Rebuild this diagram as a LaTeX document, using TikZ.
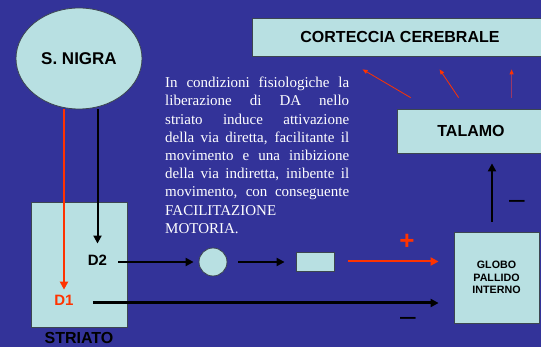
\documentclass[tikz,border=0pt]{standalone}
\usepackage{fontspec}
\setmainfont{Liberation Serif}
\setsansfont{Liberation Sans}
\usetikzlibrary{arrows.meta,shapes.geometric}
\definecolor{fondo}{HTML}{333399}
\definecolor{celeste}{HTML}{B8E0E2}
\definecolor{bordo}{HTML}{3C4650}
\definecolor{rosso}{HTML}{FF3300}
\definecolor{viola}{HTML}{9A3868}

\begin{document}
\begin{tikzpicture}[x=1pt,y=-1pt,
  blocco/.style={draw=bordo,fill=celeste,line width=0.8pt,inner sep=0pt},
  etich/.style={font=\sffamily\bfseries\fontsize{16}{19}\selectfont},
  dlab/.style={font=\sffamily\bfseries\fontsize{15}{18}\selectfont,inner sep=5pt},
  freccia/.style={-{Triangle[length=8pt,width=8pt]},line width=2pt},
  sottile/.style={-{Triangle[length=5pt,width=4pt]},line width=0.8pt,rosso}]
%[line cap=round,line join=round]
\fill[fondo] (0,0) rectangle (541,347);
\clip (0,0) rectangle (541,347);
\node[blocco,ellipse,minimum width=126pt,minimum height=101pt,etich,font=\sffamily\bfseries\fontsize{17}{20}\selectfont] (nigra) at (79,58.5) {S. NIGRA};
\node[blocco,minimum width=296pt,minimum height=38pt,etich] (corteccia) at (400,37) {CORTECCIA CEREBRALE};
\node[blocco,minimum width=148pt,minimum height=44pt,etich] (talamo) at (471,131) {TALAMO};
\node[blocco,minimum width=96pt,minimum height=125pt] (striato) at (79,264.5) {};
\node[etich,anchor=base] (lstriato) at (79,344) {STRIATO};
\node[blocco,minimum width=85pt,minimum height=91pt,align=center,font=\sffamily\bfseries\fontsize{10.7}{12.5}\selectfont] (globo) at (496.5,277.5) {GLOBO\\PALLIDO\\INTERNO};
\node[dlab] (d2) at (97.5,260) {D2};
\node[dlab,text=rosso] (d1) at (64,300) {D1};
\node[blocco,circle,minimum size=28pt] (cerchio) at (213,262) {};
\node[blocco,minimum width=38pt,minimum height=19pt] (rett) at (315,261.5) {};
\node[anchor=north west,text width=184pt,align=justify,inner sep=0pt,text=white,font=\fontsize{15}{18.2}\selectfont] (testo) at (165,77)
 {In condizioni fisiologiche la\linebreak liberazione di DA nello\linebreak striato induce attivazione\linebreak della via diretta, facilitante il\linebreak movimento e una inibizione\linebreak della via indiretta, inibente il\linebreak movimento, con conseguente\linebreak FACILITAZIONE\newline MOTORIA.};
\node[text=rosso,font=\sffamily\bfseries\fontsize{26}{26}\selectfont] (piu) at (407,242) {+};
\node[font=\sffamily\fontsize{28}{28}\selectfont] (meno1) at (408,321) {–};
\node[font=\sffamily\fontsize{28}{28}\selectfont] (meno2) at (517,204) {–};
% vie dalla substantia nigra
\draw[freccia,rosso] (nigra.south -| d1) -- (d1.north);
\draw[freccia,shorten >=6pt] (nigra.south -| d2) -- (d2.north);
\draw[freccia,shorten <=6pt,shorten >=5pt] (cerchio.west -| d2.east) -- (cerchio.west);
\draw[freccia,shorten <=11pt,shorten >=11pt] (cerchio.east) -- (cerchio.east -| rett.west);
\draw[freccia,rosso,shorten <=14pt,shorten >=15pt] (rett.east) -- (rett.east -| globo.west);
\draw[freccia,line width=3pt,shorten <=14pt,shorten >=15pt] ([yshift=-3pt]d1.east) -- ([yshift=-3pt]d1.east -| globo.west);
\draw[freccia,shorten <=10pt,shorten >=10pt] ([xshift=-4.5pt]globo.north) -- ([xshift=-4.5pt]globo.north |- talamo.south);
% verso la corteccia
\draw[sottile] ([shift={(14,-11)}]talamo.north west) -- ([shift={(111,13)}]corteccia.south west);
\draw[sottile] ([shift={(62,-11)}]talamo.north west) -- ([shift={(188,13)}]corteccia.south west);
\draw[sottile,viola,-{Triangle[length=5pt,width=4pt,color=rosso]}] ([shift={(115,-11)}]talamo.north west) -- ([shift={(260,13)}]corteccia.south west);
\end{tikzpicture}
\end{document}
